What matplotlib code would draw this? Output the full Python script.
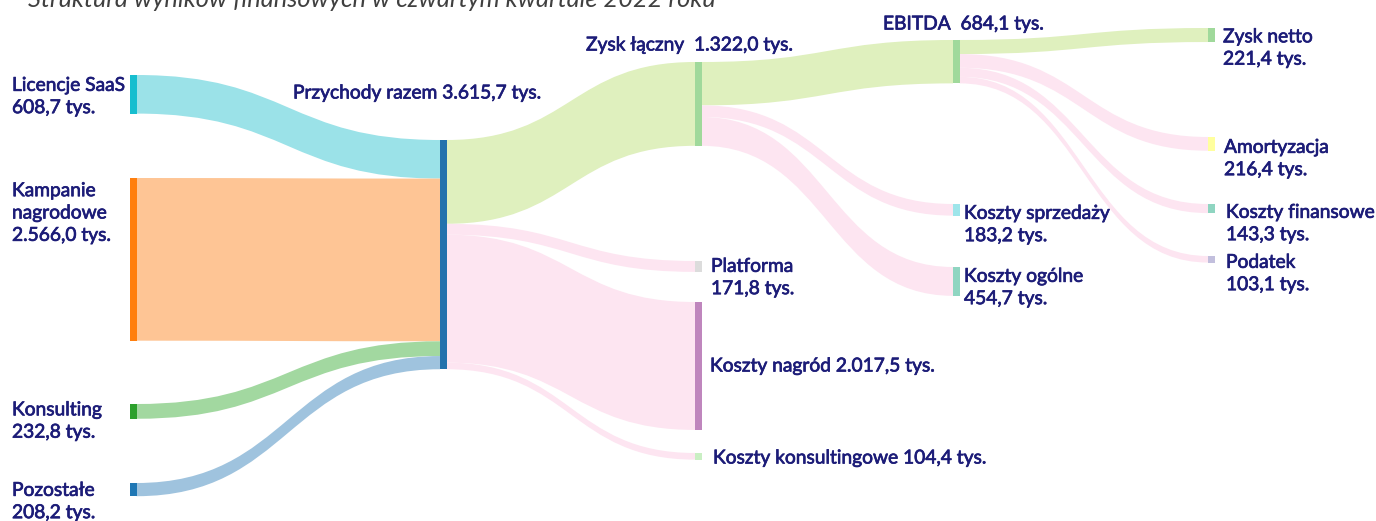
import matplotlib.pyplot as plt
import matplotlib.patheffects as pe
from matplotlib.path import Path
from matplotlib.patches import PathPatch, Rectangle

plt.rcParams['font.family'] = ['Lato', 'DejaVu Sans']

# ---- data ----
title = 'Struktura wyników finansowych w czwartym kwartale 2022 roku'
nodes = ['Licencje SaaS', 'Kampanie\nnagrodowe', 'Konsulting', 'Pozostałe',
         'Przychody razem', 'Zysk łączny', 'Platforma', 'Koszty nagród',
         'Koszty konsultingowe', 'EBITDA', 'Koszty sprzedaży', 'Koszty ogólne',
         'Zysk netto', 'Amortyzacja', 'Koszty finansowe', 'Podatek']
sources = [0, 1, 2, 3, 4, 4, 4, 4, 5, 5, 5, 9, 9, 9, 9]
targets = [4, 4, 4, 4, 5, 6, 7, 8, 9, 10, 11, 12, 13, 14, 15]
values = [608.7, 2566.0, 232.8, 208.2, 1322.0, 171.8, 2017.5, 104.4,
          684.1, 183.2, 454.7, 221.4, 216.4, 143.3, 103.1]

# ---- layout / styles ----
col_x = [130, 440, 695, 953, 1208]
node_col = [0, 0, 0, 0, 1, 2, 2, 2, 2, 3, 3, 3, 4, 4, 4, 4]
node_top = [75, 178, 404, 483, 140, 62, 261, 302, 453, 40, 204, 267, 28, 137, 204, 256]
node_w = 6.5
scale = 0.0634  # px per tys.
node_colors = ['#17becf', '#ff7f0e', '#2ca02c', '#1f77b4', '#2372ad', '#a0d99b',
               '#dcdcdc', '#bf86bd', '#c9efc3', '#a0d99b', '#9ee5ea', '#8fd5c1',
               '#a0d99b', '#ffff9e', '#8fd5c1', '#c2bfdd']
green_flow = '#dff0be'
pink_flow = '#fde5f1'
link_colors = ['#9be2e8', '#fec595', '#a2d8a0', '#9fc3de',
               green_flow, pink_flow, pink_flow, pink_flow,
               green_flow, pink_flow, pink_flow,
               green_flow, pink_flow, pink_flow, pink_flow]
text_color = '#1c1c78'
# label anchor (left x, centre y)
label_pos = [(12, 96.5), (12, 213), (12, 421), (12, 501.5), (293, 93), (586, 45),
             (711, 277.5), (710, 366), (713, 458), (883, 24), (964, 224.5),
             (964, 287.5), (1223, 48), (1224, 158.5), (1226, 223.5), (1226, 273.5)]
inline_value = [False, False, False, False, True, True, False, True, True, True,
                False, False, False, False, False, False]
label_sep = {4: ' ', 5: '  ', 7: ' ', 8: ' ', 9: '  '}


def fmt(v):
    s = f'{v:,.1f}'
    return s.replace(',', ' ').replace('.', ',').replace(' ', '.')


# node totals (incoming value where there is one)
out_sum = [0.0] * len(nodes)
in_sum = [0.0] * len(nodes)
for s, t, v in zip(sources, targets, values):
    out_sum[s] += v
    in_sum[t] += v
node_val = [in_sum[i] if in_sum[i] > 0 else out_sum[i] for i in range(len(nodes))]

fig = plt.figure(figsize=(13.76, 5.21), dpi=100)
ax = fig.add_axes([0, 0, 1, 1])
ax.set_xlim(0, 1376)
ax.set_ylim(521, 0)
ax.axis('off')

# links
out_off = [0.0] * len(nodes)
in_off = [0.0] * len(nodes)
for s, t, v, c in zip(sources, targets, values, link_colors):
    h = v * scale
    x0 = col_x[node_col[s]] + node_w
    x1 = col_x[node_col[t]]
    y0 = node_top[s] + out_off[s]
    y1 = node_top[t] + in_off[t]
    out_off[s] += h
    in_off[t] += h
    xm = (x0 + x1) / 2
    verts = [(x0, y0), (xm, y0), (xm, y1), (x1, y1),
             (x1, y1 + h), (xm, y1 + h), (xm, y0 + h), (x0, y0 + h), (x0, y0)]
    codes = [Path.MOVETO, Path.CURVE4, Path.CURVE4, Path.CURVE4,
             Path.LINETO, Path.CURVE4, Path.CURVE4, Path.CURVE4, Path.CLOSEPOLY]
    ax.add_patch(PathPatch(Path(verts, codes), facecolor=c, edgecolor='none', zorder=1))

# nodes + labels
heavier = [pe.withStroke(linewidth=0.5, foreground=text_color)]
for i, name in enumerate(nodes):
    h = node_val[i] * scale
    ax.add_patch(Rectangle((col_x[node_col[i]], node_top[i]), node_w, h,
                           facecolor=node_colors[i], edgecolor='none', zorder=2))
    val = fmt(node_val[i]) + ' tys.'
    if inline_value[i]:
        txt = name + label_sep[i] + val
    else:
        txt = name + '\n' + val
    x, y = label_pos[i]
    ax.text(x, y, txt, ha='left', va='center', fontsize=13.8,
            color=text_color, linespacing=1.38, zorder=3, path_effects=heavier)

ax.text(28, 7, title, ha='left', va='baseline', fontsize=18.3, style='italic',
        color='#404040', zorder=3)

plt.savefig('out.png', dpi=100)
